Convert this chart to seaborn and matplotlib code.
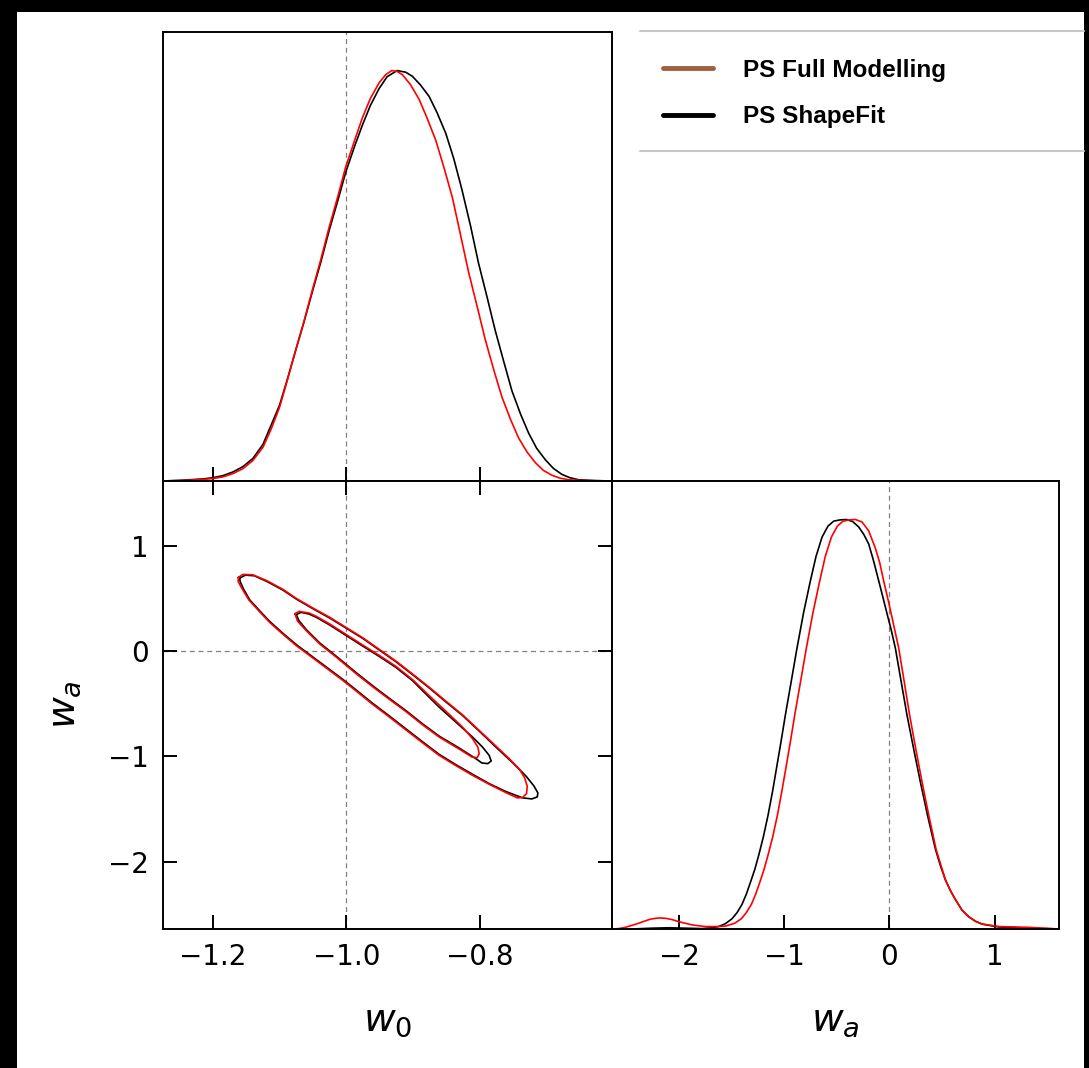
import numpy as np
import matplotlib
matplotlib.use("Agg")
import matplotlib.pyplot as plt
import seaborn as sns
from matplotlib.lines import Line2D
from matplotlib.patches import Rectangle

# ---------------- data ----------------
# w0 marginal, PS ShapeFit (black)
w0_sf_x = [-1.275, -1.245, -1.215, -1.200, -1.185, -1.170, -1.155, -1.140, -1.125, -1.113,
           -1.100, -1.088, -1.076, -1.063, -1.051, -1.038, -1.026, -1.013, -1.001, -0.988,
           -0.976, -0.964, -0.951, -0.939, -0.924, -0.911, -0.901, -0.889, -0.876, -0.864,
           -0.851, -0.839, -0.827, -0.814, -0.802, -0.789, -0.777, -0.764, -0.752, -0.739,
           -0.727, -0.715, -0.702, -0.690, -0.677, -0.665, -0.652, -0.627, -0.602]
w0_sf_y = [0.000, 0.002, 0.005, 0.008, 0.013, 0.022, 0.035, 0.055, 0.089, 0.135,
           0.185, 0.250, 0.318, 0.390, 0.461, 0.535, 0.609, 0.682, 0.752, 0.814,
           0.867, 0.915, 0.956, 0.985, 1.000, 0.996, 0.986, 0.965, 0.937, 0.897,
           0.847, 0.785, 0.711, 0.622, 0.531, 0.447, 0.367, 0.290, 0.220, 0.163,
           0.117, 0.080, 0.052, 0.031, 0.016, 0.008, 0.003, 0.001, 0.000]
# w0 marginal, PS Full Modelling (red)
w0_fm_x = [-1.275, -1.245, -1.215, -1.200, -1.185, -1.170, -1.155, -1.140, -1.125, -1.113,
           -1.100, -1.088, -1.076, -1.063, -1.051, -1.038, -1.026, -1.013, -1.001, -0.988,
           -0.976, -0.964, -0.951, -0.941, -0.932, -0.924, -0.916, -0.904, -0.891, -0.879,
           -0.866, -0.854, -0.841, -0.829, -0.817, -0.804, -0.792, -0.779, -0.767, -0.754,
           -0.742, -0.729, -0.717, -0.705, -0.692, -0.680, -0.667, -0.642, -0.602]
w0_fm_y = [0.000, 0.001, 0.004, 0.006, 0.010, 0.018, 0.030, 0.050, 0.082, 0.125,
           0.180, 0.248, 0.318, 0.392, 0.465, 0.541, 0.617, 0.692, 0.765, 0.828,
           0.885, 0.932, 0.970, 0.990, 1.000, 0.998, 0.990, 0.966, 0.930, 0.884,
           0.830, 0.765, 0.690, 0.600, 0.510, 0.425, 0.345, 0.270, 0.205, 0.150,
           0.105, 0.070, 0.045, 0.026, 0.014, 0.007, 0.003, 0.001, 0.000]

# wa marginal, PS ShapeFit (black)
wa_sf_x = [-2.638, -2.448, -2.258, -2.099, -1.941, -1.782, -1.687, -1.624, -1.560, -1.497,
           -1.449, -1.402, -1.361, -1.323, -1.281, -1.243, -1.199, -1.155, -1.110, -1.069,
           -1.028, -0.990, -0.933, -0.879, -0.816, -0.752, -0.698, -0.641, -0.584, -0.530,
           -0.470, -0.410, -0.350, -0.293, -0.245, -0.197, -0.150, -0.102, -0.064, -0.023,
           0.018, 0.056, 0.110, 0.167, 0.230, 0.294, 0.364, 0.437, 0.484, 0.532,
           0.579, 0.627, 0.690, 0.753, 0.817, 0.880, 1.039, 1.324, 1.612]
wa_sf_y = [0.000, 0.000, 0.002, 0.003, 0.002, 0.001, 0.003, 0.006, 0.013, 0.025,
           0.040, 0.060, 0.085, 0.113, 0.145, 0.180, 0.225, 0.277, 0.338, 0.400,
           0.462, 0.522, 0.606, 0.686, 0.773, 0.850, 0.910, 0.957, 0.984, 0.996,
           0.999, 1.000, 0.995, 0.982, 0.964, 0.940, 0.898, 0.850, 0.812, 0.770,
           0.729, 0.686, 0.606, 0.522, 0.440, 0.359, 0.275, 0.195, 0.155, 0.120,
           0.094, 0.072, 0.046, 0.030, 0.019, 0.012, 0.005, 0.002, 0.000]
# wa marginal, PS Full Modelling (red)
wa_fm_x = [-2.638, -2.575, -2.511, -2.448, -2.384, -2.321, -2.273, -2.226, -2.178, -2.125,
           -2.067, -2.004, -1.941, -1.877, -1.814, -1.751, -1.687, -1.624, -1.560, -1.472,
           -1.408, -1.361, -1.313, -1.272, -1.234, -1.193, -1.155, -1.110, -1.066, -1.022,
           -0.980, -0.939, -0.901, -0.844, -0.790, -0.727, -0.663, -0.610, -0.552, -0.495,
           -0.441, -0.381, -0.324, -0.261, -0.197, -0.134, -0.093, -0.055, -0.014, 0.025,
           0.088, 0.139, 0.192, 0.250, 0.310, 0.376, 0.443, 0.490, 0.532, 0.579,
           0.627, 0.690, 0.753, 0.817, 0.880, 1.039, 1.324, 1.612]
wa_fm_y = [0.000, 0.001, 0.004, 0.009, 0.014, 0.020, 0.024, 0.026, 0.027, 0.026,
           0.023, 0.018, 0.014, 0.010, 0.008, 0.006, 0.006, 0.006, 0.007, 0.014,
           0.025, 0.040, 0.060, 0.085, 0.113, 0.145, 0.180, 0.225, 0.277, 0.338,
           0.400, 0.462, 0.522, 0.606, 0.686, 0.773, 0.850, 0.910, 0.957, 0.984,
           0.996, 0.999, 1.000, 0.994, 0.972, 0.930, 0.895, 0.850, 0.805, 0.760,
           0.686, 0.606, 0.522, 0.440, 0.359, 0.275, 0.195, 0.155, 0.120, 0.094,
           0.072, 0.046, 0.030, 0.019, 0.012, 0.006, 0.004, 0.000]

# 2D contours (w0, wa): ShapeFit outer (95%) / inner (68%)
sf_outer_w0 = [-1.160, -1.151, -1.138, -1.119, -1.095, -1.075, -1.051, -1.025, -1.000, -0.975,
               -0.951, -0.926, -0.901, -0.876, -0.851, -0.826, -0.801, -0.776, -0.751, -0.731,
               -0.719, -0.713, -0.714, -0.722, -0.736, -0.761, -0.786, -0.811, -0.836, -0.861,
               -0.886, -0.911, -0.936, -0.961, -0.985, -1.005, -1.035, -1.055, -1.075, -1.095,
               -1.115, -1.130, -1.145, -1.154, -1.159, -1.160]
sf_outer_wa = [0.691, 0.719, 0.713, 0.659, 0.577, 0.492, 0.404, 0.312, 0.215, 0.117,
               0.010, -0.101, -0.224, -0.350, -0.483, -0.612, -0.760, -0.912, -1.060, -1.186,
               -1.281, -1.347, -1.385, -1.404, -1.394, -1.334, -1.259, -1.170, -1.079, -0.981,
               -0.861, -0.738, -0.615, -0.495, -0.372, -0.271, -0.129, -0.035, 0.060, 0.167,
               0.281, 0.382, 0.486, 0.587, 0.656, 0.691]
sf_inner_w0 = [-1.075, -1.068, -1.056, -1.045, -1.025, -1.000, -0.975, -0.951, -0.926, -0.901,
               -0.876, -0.861, -0.836, -0.811, -0.796, -0.786, -0.783, -0.788, -0.797, -0.806,
               -0.831, -0.861, -0.886, -0.911, -0.936, -0.961, -0.985, -1.015, -1.040, -1.060,
               -1.071, -1.075]
sf_inner_wa = [0.344, 0.366, 0.350, 0.319, 0.246, 0.145, 0.044, -0.051, -0.155, -0.281,
               -0.439, -0.533, -0.675, -0.817, -0.912, -0.991, -1.044, -1.069, -1.063, -1.022,
               -0.921, -0.808, -0.691, -0.565, -0.448, -0.328, -0.208, -0.051, 0.076, 0.202,
               0.287, 0.344]
# Full Modelling outer / inner
fm_outer_w0 = [-1.162, -1.155, -1.140, -1.119, -1.095, -1.075, -1.051, -1.025, -1.000, -0.975,
               -0.951, -0.926, -0.901, -0.876, -0.851, -0.826, -0.801, -0.776, -0.756, -0.741,
               -0.733, -0.729, -0.730, -0.736, -0.744, -0.761, -0.786, -0.811, -0.836, -0.861,
               -0.886, -0.911, -0.936, -0.961, -0.985, -1.005, -1.035, -1.055, -1.075, -1.095,
               -1.115, -1.130, -1.146, -1.156, -1.162, -1.162]
fm_outer_wa = [0.697, 0.726, 0.722, 0.666, 0.584, 0.498, 0.410, 0.319, 0.221, 0.123,
               0.016, -0.095, -0.218, -0.344, -0.476, -0.606, -0.754, -0.902, -1.022, -1.120,
               -1.202, -1.284, -1.353, -1.391, -1.394, -1.344, -1.265, -1.180, -1.088, -0.991,
               -0.871, -0.748, -0.625, -0.505, -0.382, -0.281, -0.139, -0.044, 0.050, 0.158,
               0.271, 0.372, 0.483, 0.587, 0.656, 0.697]
fm_inner_w0 = [-1.077, -1.071, -1.056, -1.045, -1.025, -1.000, -0.975, -0.951, -0.926, -0.901,
               -0.876, -0.851, -0.826, -0.811, -0.803, -0.801, -0.804, -0.812, -0.831, -0.861,
               -0.886, -0.911, -0.936, -0.961, -0.985, -1.015, -1.040, -1.060, -1.073, -1.077]
fm_inner_wa = [0.353, 0.375, 0.360, 0.328, 0.256, 0.155, 0.054, -0.041, -0.145, -0.271,
               -0.423, -0.571, -0.722, -0.833, -0.912, -0.975, -1.013, -1.006, -0.931, -0.817,
               -0.700, -0.574, -0.457, -0.338, -0.218, -0.060, 0.066, 0.192, 0.281, 0.353]

w0_ticks = [-1.2, -1.0, -0.8]
wa_ticks = [-2, -1, 0, 1]
w0_ref = -1.0
wa_ref = 0.0
labels = ["PS Full Modelling", "PS ShapeFit"]

# ---------------- style ----------------
sns.set_style("ticks")
plt.rcParams["font.family"] = ["DejaVu Sans"]
plt.rcParams["axes.linewidth"] = 1.4
for key in ("text.color", "axes.labelcolor", "xtick.color", "ytick.color", "axes.edgecolor"):
    plt.rcParams[key] = "black"

RED = "#ff0000"
BLACK = "#000000"
BROWN = "#a0603f"
LW = 1.2

W, H = 1089, 1068
fig = plt.figure(figsize=(W / 100, H / 100), dpi=100, facecolor="black")


def fx(px):
    return px / W


def fy(py):
    return 1 - py / H


# white page inside the black screenshot frame
fig.add_artist(Rectangle((fx(17), 0), fx(1084 - 17), (H - 12) / H,
                         transform=fig.transFigure, facecolor="white",
                         edgecolor="none", zorder=-5))

L, M, R = 163, 612, 1059
T, C, B = 32, 481, 929
ax00 = fig.add_axes([fx(L), fy(C), fx(M - L), (C - T) / H])
ax10 = fig.add_axes([fx(L), fy(B), fx(M - L), (B - C) / H])
ax11 = fig.add_axes([fx(M), fy(B), fx(R - M), (B - C) / H])

w0_lim = (-1.2747, -0.602)
wa_lim = (-2.638, 1.612)
p_lim = (0, 1.094)


def line(ax, x, y, color):
    sns.lineplot(x=np.asarray(x), y=np.asarray(y), ax=ax, color=color, lw=LW,
                 sort=False, estimator=None, legend=False)


# top-left: w0 marginal
line(ax00, w0_sf_x, w0_sf_y, BLACK)
line(ax00, w0_fm_x, w0_fm_y, RED)
ax00.axvline(w0_ref, color="#808080", lw=0.9, ls=(0, (4, 3)), zorder=0)
ax00.set_xlim(w0_lim)
ax00.set_ylim(p_lim)

# bottom-left: 2D
line(ax10, sf_outer_w0, sf_outer_wa, BLACK)
line(ax10, sf_inner_w0, sf_inner_wa, BLACK)
line(ax10, fm_outer_w0, fm_outer_wa, RED)
line(ax10, fm_inner_w0, fm_inner_wa, RED)
ax10.axvline(w0_ref, color="#808080", lw=0.9, ls=(0, (4, 3)), zorder=0)
ax10.axhline(wa_ref, color="#808080", lw=0.9, ls=(0, (4, 3)), zorder=0)
ax10.set_xlim(w0_lim)
ax10.set_ylim(wa_lim)

# bottom-right: wa marginal
line(ax11, wa_sf_x, wa_sf_y, BLACK)
line(ax11, wa_fm_x, wa_fm_y, RED)
ax11.axvline(wa_ref, color="#808080", lw=0.9, ls=(0, (4, 3)), zorder=0)
ax11.set_xlim(wa_lim)
ax11.set_ylim(p_lim)

tick_kw = dict(direction="in", length=10, width=1.4, labelsize=20, pad=10, color="black",
               labelcolor="black")
for ax in (ax00, ax10, ax11):
    for s in ax.spines.values():
        s.set_visible(True)
        s.set_linewidth(1.4)
        s.set_color("black")
    ax.set_xlabel("")
    ax.set_ylabel("")

ax00.set_xticks(w0_ticks)
ax00.set_yticks([])
ax00.tick_params(axis="x", bottom=True, top=False, labelbottom=False, **tick_kw)

ax10.set_xticks(w0_ticks)
ax10.set_yticks(wa_ticks)
ax10.tick_params(axis="both", bottom=True, top=True, left=True, right=True, **tick_kw)
ax10.set_xlabel(r"$w_0$", fontsize=28, labelpad=22, color="black")
ax10.set_ylabel(r"$w_a$", fontsize=28, labelpad=18, color="black")

ax11.set_xticks(wa_ticks)
ax11.set_yticks([])
ax11.tick_params(axis="x", bottom=True, top=False, **tick_kw)
ax11.set_xlabel(r"$w_a$", fontsize=28, labelpad=22, color="black")

# legend
handles = [Line2D([], [], color=BROWN, lw=3.5), Line2D([], [], color=BLACK, lw=3.5)]
leg = fig.legend(handles, labels, loc="upper left", bbox_to_anchor=(fx(663), fy(59)),
                 frameon=False, borderpad=0, borderaxespad=0, handlelength=2.06,
                 handletextpad=1.23, labelspacing=0.95,
                 prop={"family": "Liberation Sans", "weight": "bold", "size": 17.5})
for t in leg.get_texts():
    t.set_color("black")
for yy in (31, 151):
    fig.add_artist(Line2D([fx(640), fx(1084)], [fy(yy), fy(yy)], transform=fig.transFigure,
                          color="#c8c8c8", lw=1.5))

fig.savefig("out.png", dpi=100, facecolor=fig.get_facecolor())
